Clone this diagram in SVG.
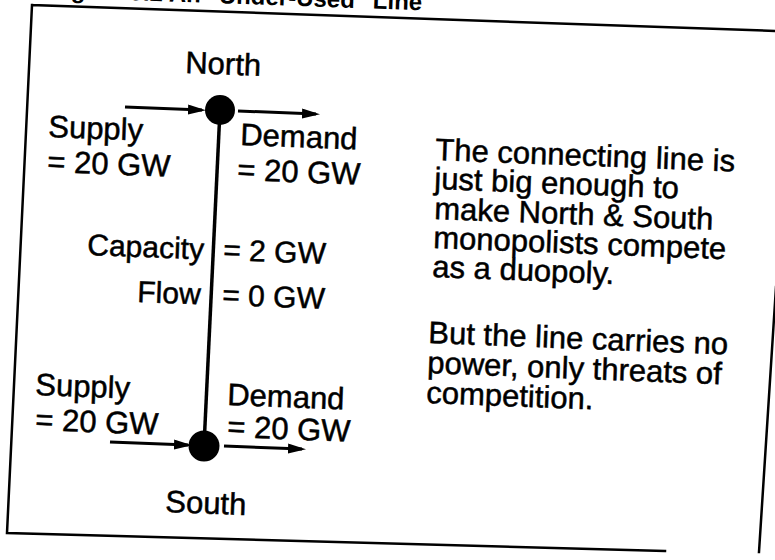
<svg xmlns="http://www.w3.org/2000/svg" width="775" height="560" viewBox="0 0 775 560">
<defs>
<style>
text{font-family:"Liberation Sans",Arial,Helvetica,sans-serif;fill:#000;stroke:#000;stroke-width:0.5;}
.t{font-size:31px;}
.s{font-size:30px;}
.hd{font-size:24px;font-weight:bold;stroke-width:0;}
.frame{stroke:#000;stroke-width:2.5;fill:none;stroke-linecap:square;}
.ln{stroke:#000;stroke-width:3.5;fill:none;}
.ar{stroke:#000;stroke-width:3;fill:none;marker-end:url(#ah);}
</style>
<marker id="ah" markerUnits="userSpaceOnUse" markerWidth="20" markerHeight="12" refX="14" refY="5" orient="auto">
<path d="M0,0 L18,5 L0,10 z" fill="#000"/>
</marker>
</defs>
<rect width="775" height="560" fill="#fff"/>
<g id="frame">
<text class="hd" x="422" y="6" text-anchor="end" transform="rotate(2 300 6)">Figure 5.2  An "Under-Used" Line</text>
<path class="frame" d="M32,5 L776,31 M32,5 L7,533 L665,551 M776,287 L759,552"/>
</g>
<g id="connectors">
<line class="ln" x1="220" y1="110" x2="204" y2="446"/>
<line class="ar" x1="125" y1="107" x2="202" y2="110"/>
<line class="ar" x1="238" y1="111" x2="316" y2="114"/>
<line class="ar" x1="110" y1="442" x2="188" y2="445"/>
<line class="ar" x1="224" y1="446" x2="302" y2="449"/>
</g>
<g id="north">
<circle cx="220" cy="110" r="15"/>
<text class="t" x="185" y="73" transform="rotate(2.2 185 73)">North</text>
<text class="t" x="48" y="137" transform="rotate(2.2 48 137)">Supply</text>
<text class="t" x="47" y="172" transform="rotate(2.2 47 172)">= 20 GW</text>
<text class="t" x="240" y="145" transform="rotate(2.2 240 145)">Demand</text>
<text class="t" x="237" y="180" transform="rotate(2.2 237 180)">= 20 GW</text>
</g>
<g id="line-labels">
<text class="s" x="87" y="255" transform="rotate(2.2 87 255)">Capacity</text>
<text class="s" x="223" y="260" transform="rotate(2.2 223 260)">= 2 GW</text>
<text class="s" x="137" y="302" transform="rotate(2.2 137 302)">Flow</text>
<text class="s" x="222" y="305" transform="rotate(2.2 222 305)">= 0 GW</text>
</g>
<g id="south">
<circle cx="204" cy="446" r="15.5"/>
<text class="t" x="35" y="395" transform="rotate(2.2 35 395)">Supply</text>
<text class="t" x="35" y="430" transform="rotate(2.2 35 430)">= 20 GW</text>
<text class="t" x="227" y="405" transform="rotate(2.2 227 405)">Demand</text>
<text class="t" x="227" y="437" transform="rotate(2.2 227 437)">= 20 GW</text>
<text class="t" x="165" y="512" transform="rotate(2.2 165 512)">South</text>
</g>
<g id="note">
<text class="t" x="435" y="160" transform="rotate(2.2 435 160)">The connecting line is</text>
<text class="t" x="434" y="189" transform="rotate(2.2 434 189)">just big enough to</text>
<text class="t" x="434" y="219" transform="rotate(2.2 434 219)">make North &amp; South</text>
<text class="t" x="433" y="248" transform="rotate(2.2 433 248)">monopolists compete</text>
<text class="t" x="432" y="277" transform="rotate(2.2 432 277)">as a duopoly.</text>
<text class="t" x="428" y="343" transform="rotate(2.2 428 343)">But the line carries no</text>
<text class="t" x="427" y="373" transform="rotate(2.2 427 373)">power, only threats of</text>
<text class="t" x="426" y="403" transform="rotate(2.2 426 403)">competition.</text>
</g>
</svg>
